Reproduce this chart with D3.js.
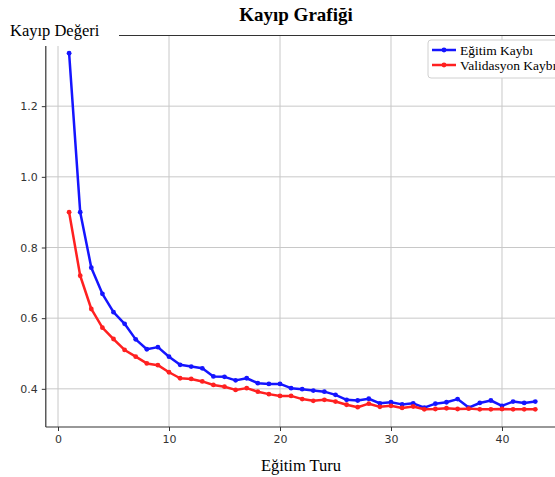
<!DOCTYPE html>
<html><head><meta charset="utf-8">
<script src="https://cdn.jsdelivr.net/npm/d3@7"></script>
<style>body{margin:0;background:#fff}svg{display:block}</style>
</head><body>
<svg id="c" width="555" height="477"></svg>
<script>
const epochs = d3.range(1, 44);
const trainLoss = [1.35,0.90,0.743,0.669,0.617,0.584,0.540,0.512,0.518,0.491,0.468,0.463,0.458,0.435,0.434,0.424,0.430,0.416,0.414,0.414,0.402,0.399,0.395,0.392,0.383,0.369,0.367,0.372,0.359,0.362,0.356,0.359,0.347,0.358,0.362,0.371,0.347,0.360,0.367,0.352,0.364,0.360,0.364];
const valLoss = [0.900,0.720,0.626,0.573,0.541,0.510,0.491,0.472,0.467,0.447,0.430,0.428,0.421,0.411,0.406,0.397,0.402,0.392,0.385,0.380,0.380,0.371,0.366,0.369,0.364,0.355,0.348,0.358,0.349,0.352,0.346,0.350,0.342,0.343,0.345,0.343,0.344,0.342,0.342,0.343,0.342,0.342,0.342];
const xTicks = [0,10,20,30,40];
const yTicks = [0.4,0.6,0.8,1.0,1.2];
const seriesNames = ["Eğitim Kaybı","Validasyon Kaybı"];
const seriesColors = ["#1515ff","#ff2020"];

const svg = d3.select("#c");
const L=45.8, R=558.6, T=35.5, B=427;
const x = d3.scaleLinear().domain([-1.1,45.1]).range([L,R]);
const y = d3.scaleLinear().domain([0.292,1.40]).range([B,T]);

// grid
const g = svg.append("g");
g.selectAll(".vg").data(xTicks).join("line")
  .attr("x1",d=>x(d)).attr("x2",d=>x(d)).attr("y1",T).attr("y2",B)
  .attr("stroke","#c8c8c8").attr("stroke-width",1);
g.selectAll(".hg").data(yTicks).join("line")
  .attr("x1",L).attr("x2",R).attr("y1",d=>y(d)).attr("y2",d=>y(d))
  .attr("stroke","#c8c8c8").attr("stroke-width",1);

// top spine
svg.append("line").attr("x1",L).attr("x2",R).attr("y1",T).attr("y2",T).attr("stroke","#333").attr("stroke-width",1.2);

// series
const data = [trainLoss,valLoss];
data.forEach((vals,i)=>{
  const pts = epochs.map((e,j)=>[e,vals[j]]);
  svg.append("path").datum(pts)
    .attr("d", d3.line().x(d=>x(d[0])).y(d=>y(d[1])))
    .attr("fill","none").attr("stroke",seriesColors[i]).attr("stroke-width",2.5).attr("stroke-linejoin","round");
  svg.append("g").selectAll("circle").data(pts).join("circle")
    .attr("cx",d=>x(d[0])).attr("cy",d=>y(d[1])).attr("r",2.4).attr("fill",seriesColors[i]);
});

// white patch behind y label
svg.append("rect").attr("x",0).attr("y",0).attr("width",119).attr("height",46).attr("fill","#fff");

// axes
const xa = svg.append("g").attr("transform",`translate(0,${B})`)
  .call(d3.axisBottom(x).tickValues(xTicks).tickFormat(d3.format("d")).tickSizeOuter(0).tickSize(4).tickPadding(4));
const ya = svg.append("g").attr("transform",`translate(${L},0)`)
  .call(d3.axisLeft(y).tickValues(yTicks).tickFormat(d3.format(".1f")).tickSizeOuter(0).tickSize(4).tickPadding(4));
[xa,ya].forEach(a=>{
  a.select(".domain").attr("stroke","#333").attr("stroke-width",1.2);
  a.selectAll(".tick line").attr("stroke","#333");
  a.selectAll(".tick text").attr("fill","#333").style("font-family","DejaVu Sans").style("font-size","11px");
});
ya.select(".domain").attr("d",`M0,46V${B}`);
xa.select(".domain").attr("d",`M${L},0H555`);

// titles
svg.append("text").attr("x",296).attr("y",21).attr("text-anchor","middle")
  .style("font-family","Liberation Serif").style("font-weight","bold").style("font-size","19px").text("Kayıp Grafiği");
svg.append("text").attr("x",10).attr("y",36)
  .style("font-family","Liberation Serif").style("font-size","16.5px").text("Kayıp Değeri");
svg.append("text").attr("x",301).attr("y",471).attr("text-anchor","middle")
  .style("font-family","Liberation Serif").style("font-size","16.5px").text("Eğitim Turu");

// legend
const lg = svg.append("g");
lg.append("rect").attr("x",428).attr("y",40).attr("width",140).attr("height",38).attr("rx",3)
  .attr("fill","#fff").attr("stroke","#d0d0d0");
seriesNames.forEach((n,i)=>{
  const yy = 50 + i*15;
  lg.append("line").attr("x1",432).attr("x2",456).attr("y1",yy).attr("y2",yy).attr("stroke",seriesColors[i]).attr("stroke-width",2.5);
  lg.append("circle").attr("cx",444).attr("cy",yy).attr("r",2.4).attr("fill",seriesColors[i]);
  lg.append("text").attr("x",460).attr("y",yy+4.5).style("font-family","Liberation Serif").style("font-size","13.5px").text(n);
});
</script>
</body></html>
